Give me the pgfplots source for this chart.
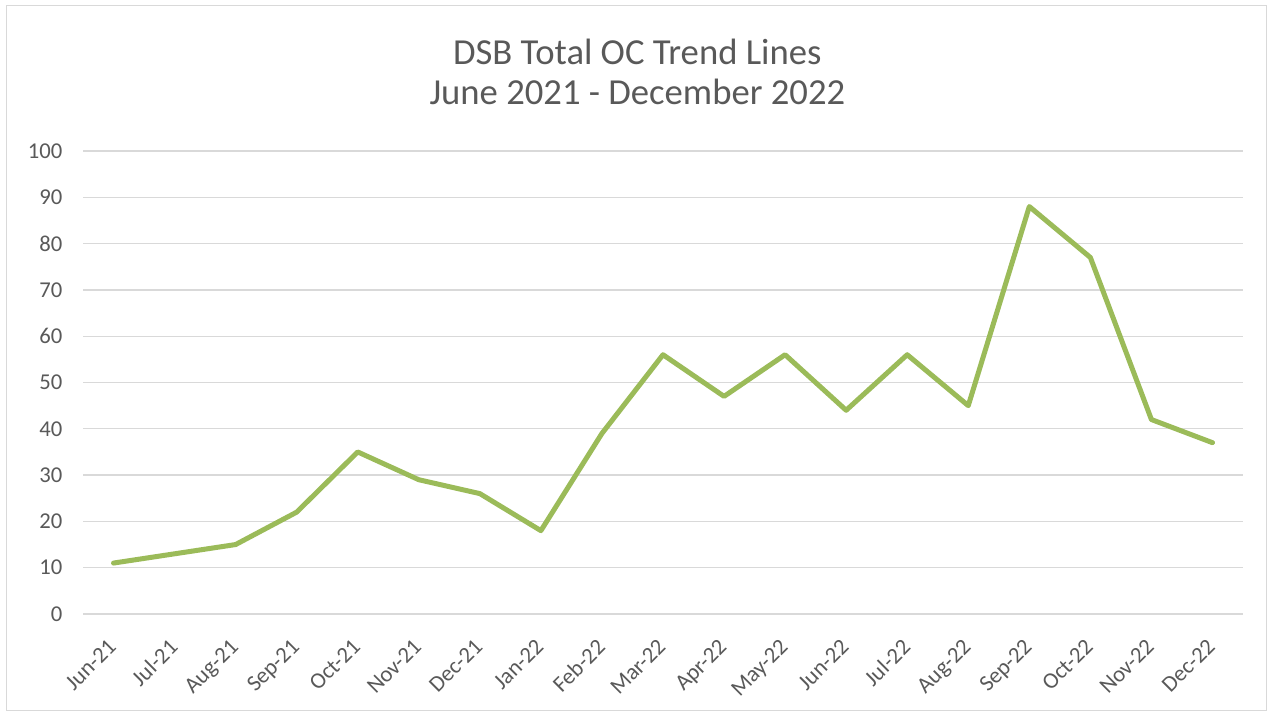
\documentclass[border=0pt]{standalone}
\usepackage{pgfplots}
\pgfplotsset{compat=1.18}
\usepackage{fontspec}
\setmainfont{Carlito}
\definecolor{txt}{HTML}{595959}
\definecolor{gridc}{HTML}{D9D9D9}
\definecolor{ser}{HTML}{9BBB59}
\pgfplotstableread{
x y
0 11
1 13
2 15
3 22
4 35
5 29
6 26
7 18
8 39
9 56
10 47
11 56
12 44
13 56
14 45
15 88
16 77
17 42
18 37
}\datatable
\begin{document}
\begin{tikzpicture}
\path[draw=gridc,line width=0.75pt] (4.5pt,4.5pt) rectangle (949.5pt,533.25pt);
\path[use as bounding box] (0pt,0pt) rectangle (954pt,537.75pt);
\node[text=txt,font=\fontsize{27.5}{30}\selectfont,align=center] at (478pt,483.5pt) {DSB Total OC Trend Lines\\June 2021 - December 2022};
\begin{axis}[
  at={(62.25pt,77.25pt)}, anchor=south west,
  scale only axis, width=870pt, height=347.25pt,
  xmin=-0.5, xmax=18.5, ymin=0, ymax=100,
  ytick={0,10,...,100},
  xtick={0,...,18},
  xticklabels={Jun-21,Jul-21,Aug-21,Sep-21,Oct-21,Nov-21,Dec-21,Jan-22,Feb-22,Mar-22,Apr-22,May-22,Jun-22,Jul-22,Aug-22,Sep-22,Oct-22,Nov-22,Dec-22},
  axis line style={draw=none},
  major tick length=0pt,
  ymajorgrids, xmajorgrids=false, grid style={draw=gridc,line width=1pt},
  tick label style={text=txt,font=\fontsize{17}{20}\selectfont},
  /pgf/number format/assume math mode=true,
  yticklabel style={xshift=-12pt},
  xticklabel style={rotate=45,anchor=north east,xshift=-12.5pt,yshift=-5.5pt},
  clip=false,
]
\addplot[ser,line width=3.75pt,line join=round,line cap=round] table[x=x,y=y] {\datatable};
\end{axis}
\end{tikzpicture}
\end{document}
